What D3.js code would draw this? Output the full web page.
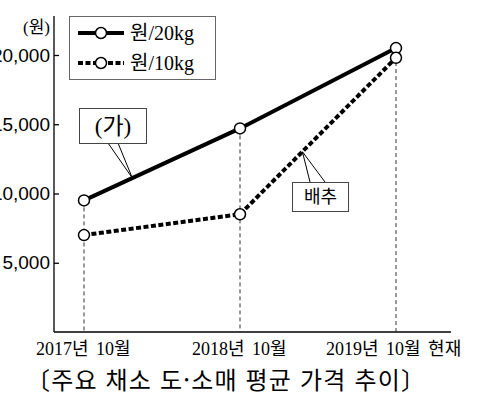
<!DOCTYPE html>
<html lang="ko">
<head>
<meta charset="UTF-8" />
<title>주요 채소 도·소매 평균 가격 추이</title>
<script src="https://d3js.org/d3.v7.min.js"></script>
<style>
  body { margin: 0; background: #fff; }
  svg { font-family: "Liberation Serif", "Noto Sans CJK KR", serif; }
  .axis path.domain { display: none; }
  .axis .tick line { stroke: #000; stroke-width: 1.3; }
  .axis .tick text { font-size: 19px; fill: #000; }
</style>
</head>
<body>
<script>
// data
var periods = ["2017년 10월", "2018년 10월", "2019년 10월 현재"];
var price20kg = [9500, 14700, 20500];   // 원/20kg
var price10kg = [7000, 8500, 19800];    // 원/10kg (배추)
var yTicks = [5000, 10000, 15000, 20000];
var seriesNames = ["원/20kg", "원/10kg"];

var width = 481, height = 398;

var svg = d3.select("body").append("svg")
  .attr("width", width)
  .attr("height", height);

var x = d3.scalePoint()
  .domain(periods)
  .range([84, 396]);

var y = d3.scaleLinear()
  .domain([0, 20000])
  .range([332, 55]);

var x0 = 54, xEnd = 451, yTop = 16;

// axes lines
svg.append("line")
  .attr("x1", x0).attr("x2", x0)
  .attr("y1", yTop).attr("y2", y(0))
  .attr("stroke", "#000").attr("stroke-width", 1.3);
svg.append("line")
  .attr("x1", x0).attr("x2", xEnd)
  .attr("y1", y(0)).attr("y2", y(0))
  .attr("stroke", "#000").attr("stroke-width", 1.3);

svg.append("g")
  .attr("class", "axis")
  .attr("transform", "translate(" + x0 + ",0)")
  .call(d3.axisLeft(y)
    .tickValues(yTicks)
    .tickSize(-5)
    .tickPadding(4)
    .tickFormat(d3.format(",")));

svg.append("text")
  .attr("x", 50).attr("y", 33)
  .attr("text-anchor", "end")
  .style("font-size", "17px")
  .text("(원)");

// x labels
svg.selectAll(".xlab")
  .data(periods)
  .enter().append("text")
  .attr("class", "xlab")
  .attr("x", function(d, i) { return i == 2 ? x(d) - 70 : x(d) - 48; })
  .attr("y", 355)
  .style("font-size", "18px")
  .style("word-spacing", "3px")
  .text(function(d) { return d; });

// dashed guides
svg.selectAll(".guide")
  .data(periods)
  .enter().append("line")
  .attr("class", "guide")
  .attr("x1", function(d) { return x(d); })
  .attr("x2", function(d) { return x(d); })
  .attr("y1", function(d, i) { return y(Math.max(price20kg[i], price10kg[i])); })
  .attr("y2", y(0))
  .attr("stroke", "#333")
  .attr("stroke-width", 1)
  .attr("stroke-dasharray", "4,3");

var line = d3.line()
  .x(function(d, i) { return x(periods[i]); })
  .y(function(d) { return y(d); });

svg.append("path")
  .datum(price20kg)
  .attr("d", line)
  .attr("fill", "none")
  .attr("stroke", "#000")
  .attr("stroke-width", 4);

svg.append("path")
  .datum(price10kg)
  .attr("d", line)
  .attr("fill", "none")
  .attr("stroke", "#000")
  .attr("stroke-width", 4)
  .attr("stroke-dasharray", "5,2.5");

[price20kg, price10kg].forEach(function(s) {
  svg.selectAll(null)
    .data(s)
    .enter().append("circle")
    .attr("cx", function(d, i) { return x(periods[i]); })
    .attr("cy", function(d) { return y(d); })
    .attr("r", 5.5)
    .attr("fill", "#fff")
    .attr("stroke", "#000")
    .attr("stroke-width", 1.5);
});

// legend
var lg = svg.append("g");
lg.append("rect")
  .attr("x", 69.5).attr("y", 16.5)
  .attr("width", 146).attr("height", 63)
  .attr("fill", "#fff")
  .attr("stroke", "#666");
seriesNames.forEach(function(name, i) {
  var ly = 33 + i * 30;
  lg.append("line")
    .attr("x1", 78).attr("x2", 124)
    .attr("y1", ly).attr("y2", ly)
    .attr("stroke", "#000")
    .attr("stroke-width", 4)
    .attr("stroke-dasharray", i == 0 ? null : "5,2.5");
  lg.append("circle")
    .attr("cx", 101).attr("cy", ly)
    .attr("r", 5.5)
    .attr("fill", "#fff")
    .attr("stroke", "#000")
    .attr("stroke-width", 1.5);
  lg.append("text")
    .attr("x", 130).attr("y", ly + 7)
    .style("font-size", "20px")
    .text(name);
});

// callouts
function along(s, i, t) {
  var xa = x(periods[i]), xb = x(periods[i + 1]);
  var ya = y(s[i]), yb = y(s[i + 1]);
  return [xa + (xb - xa) * t, ya + (yb - ya) * t];
}

function callout(tip, bx, by, bw, bh, l1, l2, baseY, label, fs, font) {
  svg.append("path")
    .attr("d", "M" + l1 + "," + baseY + "L" + tip[0] + "," + tip[1] + "L" + l2 + "," + baseY)
    .attr("fill", "#fff")
    .attr("stroke", "#000")
    .attr("stroke-width", 1);
  svg.append("rect")
    .attr("x", bx + 0.5).attr("y", by + 0.5)
    .attr("width", bw).attr("height", bh)
    .attr("fill", "#fff")
    .attr("stroke", "#444");
  svg.append("text")
    .attr("x", bx + bw / 2 + 0.5)
    .attr("y", by + bh / 2 + fs * 0.36)
    .attr("text-anchor", "middle")
    .style("font-family", font)
    .style("font-size", fs + "px")
    .text(label);
}

callout(along(price20kg, 0, 0.31), 79, 108, 67, 35, 108, 118, 143, "(가)", 23, null);
callout(along(price10kg, 1, 0.40), 292, 182, 56, 29, 310, 325, 182, "배추", 18, "Noto Sans CJK KR");

// title
svg.append("text")
  .attr("x", 26).attr("y", 389)
  .attr("textLength", 399)
  .attr("lengthAdjust", "spacing")
  .style("font-family", "Noto Sans CJK KR")
  .style("font-size", "24px")
  .text("〔주요 채소 도·소매 평균 가격 추이〕");
</script>
</body>
</html>
